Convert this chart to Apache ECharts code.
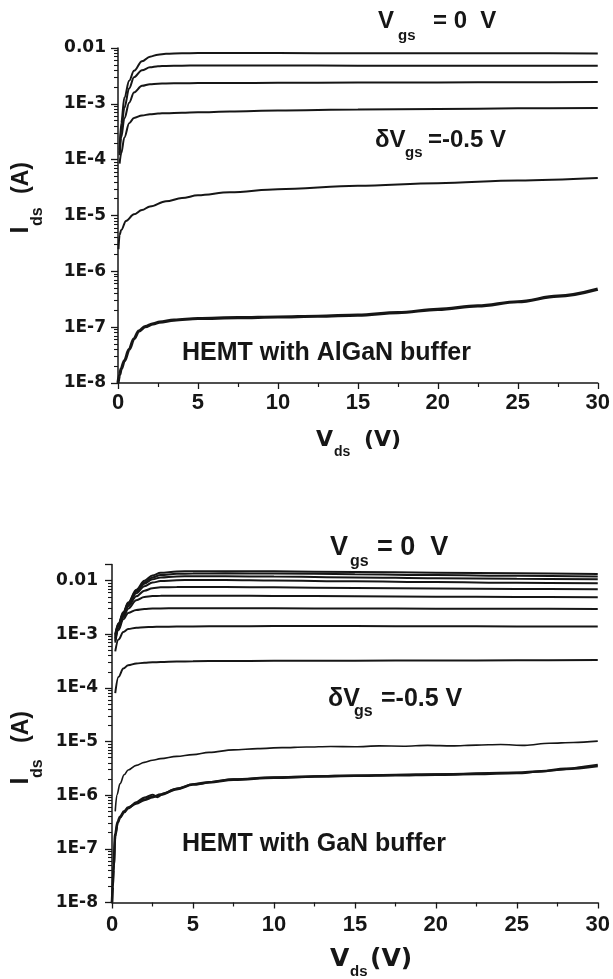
<!DOCTYPE html>
<html><head><meta charset="utf-8">
<script src="https://cdn.jsdelivr.net/npm/echarts@6/dist/echarts.min.js"></script>
<style>html,body{margin:0;padding:0;background:#fff}#c{width:613px;height:979px}</style>
</head><body><div id="c"></div>
<script>
// ---------- tick labels ----------
const xTickValues = [0, 5, 10, 15, 20, 25, 30];
const xTickLabels = ['0', '5', '10', '15', '20', '25', '30'];
const yTickExp = [-8, -7, -6, -5, -4, -3, -2];
const yTickLabels = ['1E-8', '1E-7', '1E-6', '1E-5', '1E-4', '1E-3', '0.01'];
const topYMax = 0.01;
const botYMax = 0.02;

// ---------- top panel: HEMT with AlGaN buffer ----------
const vT = [0.1, 0.2, 0.4, 0.7, 1, 1.5, 2, 2.5, 3, 4, 5, 7, 10, 15, 20, 25, 30];
const t1 = [1.5e-4, 4.5e-4, 1.3e-3, 2.6e-3, 3.9e-3, 5.8e-3, 7.0e-3, 7.6e-3, 7.9e-3, 8.05e-3, 8.1e-3, 8.1e-3, 8.1e-3, 8.08e-3, 8.05e-3, 8.02e-3, 8.0e-3];
const t2 = [1.3e-4, 3.5e-4, 8.5e-4, 1.9e-3, 3.0e-3, 4.0e-3, 4.5e-3, 4.7e-3, 4.78e-3, 4.83e-3, 4.85e-3, 4.85e-3, 4.85e-3, 4.83e-3, 4.82e-3, 4.81e-3, 4.8e-3];
const t3 = [1.2e-4, 2.5e-4, 5.5e-4, 1.05e-3, 1.6e-3, 2.1e-3, 2.25e-3, 2.3e-3, 2.32e-3, 2.34e-3, 2.35e-3, 2.36e-3, 2.38e-3, 2.4e-3, 2.42e-3, 2.44e-3, 2.46e-3];
const t4 = [8.5e-5, 1.3e-4, 2.5e-4, 4.5e-4, 5.6e-4, 6.2e-4, 6.5e-4, 6.7e-4, 6.8e-4, 6.95e-4, 7.05e-4, 7.3e-4, 7.6e-4, 7.9e-4, 8.1e-4, 8.3e-4, 8.4e-4];
const vT5 = [0.03, 0.1, 0.2, 0.5, 1, 1.5, 2, 3, 4, 5, 7, 10, 15, 20, 25, 30];
const t5 = [2.5e-6, 4.5e-6, 5.5e-6, 8e-6, 1.05e-5, 1.25e-5, 1.45e-5, 1.8e-5, 2.05e-5, 2.3e-5, 2.6e-5, 2.95e-5, 3.4e-5, 3.8e-5, 4.25e-5, 4.7e-5];
const vT6 = [0, 0.1, 0.2, 0.4, 0.7, 1, 1.3, 1.7, 2.2, 2.6, 3.5, 5, 7.5, 10, 12.5, 15, 17.5, 20, 22.5, 25, 27.5, 30];
const t6 = [1e-8, 1.4e-8, 1.8e-8, 2.5e-8, 4e-8, 6.2e-8, 8.5e-8, 1.02e-7, 1.15e-7, 1.23e-7, 1.34e-7, 1.43e-7, 1.48e-7, 1.52e-7, 1.57e-7, 1.64e-7, 1.82e-7, 2.08e-7, 2.4e-7, 2.85e-7, 3.6e-7, 4.8e-7];

// ---------- bottom panel: HEMT with GaN buffer ----------
const vB = [0.2, 0.4, 0.7, 1, 1.5, 2, 2.5, 3, 4, 5, 7, 10, 15, 20, 25, 30];
const b1 = [1.0e-3, 1.6e-3, 2.6e-3, 3.9e-3, 6.8e-3, 1.0e-2, 1.25e-2, 1.4e-2, 1.48e-2, 1.5e-2, 1.5e-2, 1.49e-2, 1.45e-2, 1.41e-2, 1.37e-2, 1.33e-2];
const b2 = [9.5e-4, 1.55e-3, 2.5e-3, 3.8e-3, 6.5e-3, 9.3e-3, 1.15e-2, 1.27e-2, 1.34e-2, 1.36e-2, 1.37e-2, 1.36e-2, 1.32e-2, 1.27e-2, 1.23e-2, 1.19e-2];
const b3 = [9e-4, 1.5e-3, 2.45e-3, 3.7e-3, 6.2e-3, 8.8e-3, 1.06e-2, 1.15e-2, 1.2e-2, 1.21e-2, 1.21e-2, 1.19e-2, 1.15e-2, 1.11e-2, 1.08e-2, 1.06e-2];
const b4 = [8.5e-4, 1.45e-3, 2.35e-3, 3.5e-3, 5.8e-3, 7.9e-3, 9.2e-3, 9.8e-3, 1.02e-2, 1.03e-2, 1.03e-2, 1.01e-2, 9.7e-3, 9.4e-3, 9.1e-3, 8.9e-3];
const b5 = [8e-4, 1.4e-3, 2.2e-3, 3.3e-3, 5.1e-3, 6.5e-3, 7.2e-3, 7.5e-3, 7.62e-3, 7.65e-3, 7.6e-3, 7.5e-3, 7.3e-3, 7.15e-3, 7.0e-3, 6.9e-3];
const b6 = [7.5e-4, 1.3e-3, 2.1e-3, 3.0e-3, 4.3e-3, 4.95e-3, 5.15e-3, 5.22e-3, 5.25e-3, 5.25e-3, 5.25e-3, 5.2e-3, 5.1e-3, 5.02e-3, 4.95e-3, 4.9e-3];
const b7 = [7e-4, 1.2e-3, 1.9e-3, 2.5e-3, 2.85e-3, 2.97e-3, 3.02e-3, 3.04e-3, 3.05e-3, 3.05e-3, 3.05e-3, 3.05e-3, 3.03e-3, 3.0e-3, 2.98e-3, 2.97e-3];
const b8 = [4.8e-4, 8e-4, 1.1e-3, 1.25e-3, 1.33e-3, 1.36e-3, 1.37e-3, 1.38e-3, 1.39e-3, 1.4e-3, 1.41e-3, 1.42e-3, 1.42e-3, 1.41e-3, 1.4e-3, 1.39e-3];
const b9 = [8e-5, 1.6e-4, 2.3e-4, 2.65e-4, 2.85e-4, 2.95e-4, 3.0e-4, 3.05e-4, 3.1e-4, 3.15e-4, 3.18e-4, 3.2e-4, 3.22e-4, 3.25e-4, 3.27e-4, 3.3e-4];
const vB10 = [0.2, 0.3, 0.5, 0.75, 1, 1.5, 2, 2.5, 3, 4, 5, 6, 7.5, 9, 10.5, 12, 13.5, 15, 16.5, 18, 19.5, 21, 22.5, 24, 25.5, 27, 28.5, 30];
const b10 = [5e-7, 1.0e-6, 1.65e-6, 2.4e-6, 2.95e-6, 3.6e-6, 4.1e-6, 4.5e-6, 4.8e-6, 5.3e-6, 5.7e-6, 6.3e-6, 7.0e-6, 7.4e-6, 7.7e-6, 7.9e-6, 8.1e-6, 8.0e-6, 8.3e-6, 8.2e-6, 8.5e-6, 8.3e-6, 8.6e-6, 8.8e-6, 8.5e-6, 9.3e-6, 9.6e-6, 1.02e-5];
const vB11 = [0, 0.05, 0.1, 0.2, 0.35, 0.5, 0.75, 1, 1.5, 2, 2.5, 3, 4, 5, 6, 7.5, 10, 12.5, 15, 17.5, 20, 22.5, 25, 26.5, 28, 30];
const b11 = [1e-8, 2e-8, 5e-8, 1.9e-7, 3.2e-7, 4e-7, 5e-7, 5.9e-7, 7e-7, 8.2e-7, 9.2e-7, 1.03e-6, 1.3e-6, 1.58e-6, 1.75e-6, 1.95e-6, 2.12e-6, 2.23e-6, 2.3e-6, 2.36e-6, 2.42e-6, 2.48e-6, 2.6e-6, 2.8e-6, 3.1e-6, 3.5e-6];
const vB12 = [0, 0.1, 0.2, 0.35, 0.5, 0.75, 1, 1.5, 2, 2.5, 2.8, 3.2, 4, 5, 7.5, 10, 15, 20, 25, 30];
const b12 = [1e-8, 4e-8, 1.7e-7, 3e-7, 3.8e-7, 4.8e-7, 5.7e-7, 7.4e-7, 9e-7, 1.02e-6, 9.2e-7, 1.08e-6, 1.33e-6, 1.6e-6, 1.98e-6, 2.15e-6, 2.33e-6, 2.45e-6, 2.65e-6, 3.7e-6];

// ---------- helpers ----------
const INK = '#161616';
const pts = (v, i) => v.map((x, k) => [x, Math.log10(i[k])]);
const majorTicks = (maxV) => { const a = yTickExp.slice(); if (Math.log10(maxV) > -2 + 1e-9) a.push(Math.log10(maxV)); return a; };
const minorTicks = () => { const a = []; for (let n = -8; n <= -3; n++) for (let k = 2; k <= 9; k++) a.push(n + Math.log10(k)); return a; };

function line(gi, v, i, w) {
  return { type: 'line', xAxisIndex: gi, yAxisIndex: gi * 2, data: pts(v, i), showSymbol: false, symbol: 'none',
    smooth: 0.35, smoothMonotone: 'x', lineStyle: { color: INK, width: w || 2 }, silent: true, clip: false };
}
function xAx(gi, margin) {
  return { type: 'value', gridIndex: gi, min: 0, max: 30, interval: 5,
    axisLine: { show: true, onZero: false, lineStyle: { color: INK, width: 1.5 } },
    axisTick: { show: true, inside: false, length: 6, lineStyle: { color: INK, width: 1.3 } },
    minorTick: { show: true, splitNumber: 2, length: 4, lineStyle: { color: INK, width: 1.2 } },
    splitLine: { show: false }, minorSplitLine: { show: false },
    axisLabel: { margin: margin, fontFamily: 'Liberation Sans', fontWeight: 'bold', fontSize: 22, color: INK,
      formatter: (val) => { const k = xTickValues.indexOf(val); return k >= 0 ? xTickLabels[k] : ''; } } };
}
function yMain(gi, maxV, margin) {
  return { type: 'value', gridIndex: gi, position: 'left', min: -8, max: Math.log10(maxV),
    axisLine: { show: true, onZero: false, lineStyle: { color: INK, width: 1.5 } },
    axisTick: { show: true, inside: false, length: 7, customValues: majorTicks(maxV), lineStyle: { color: INK, width: 1.3 } },
    splitLine: { show: false },
    axisLabel: { margin: margin, customValues: yTickExp, fontFamily: 'DejaVu Sans', fontWeight: 'bold', fontSize: 17, color: INK,
      formatter: (val) => { const k = yTickExp.findIndex(e => Math.abs(e - val) < 1e-6); return k >= 0 ? yTickLabels[k] : ''; } } };
}
function yMinor(gi, maxV) {
  return { type: 'value', gridIndex: gi, position: 'left', offset: 0, min: -8, max: Math.log10(maxV),
    axisLine: { show: false }, axisLabel: { show: false }, splitLine: { show: false },
    axisTick: { show: true, inside: false, length: 4, customValues: minorTicks(), lineStyle: { color: INK, width: 1.1 } } };
}
function txt(x, y, s, size, fam, extra) {
  return Object.assign({ type: 'text', x: x, y: y, silent: true,
    style: { text: s, fill: INK, font: 'bold ' + size + 'px "' + (fam || 'Liberation Sans') + '"',
      textAlign: 'left', textVerticalAlign: 'middle', align: 'left', verticalAlign: 'middle' } }, extra || {});
}
const R = { rotation: Math.PI / 2 };

const chart = echarts.init(document.getElementById('c'), null, { renderer: 'canvas' });
chart.setOption({
  animation: false,
  backgroundColor: '#ffffff',
  grid: [
    { left: 118, right: 12, top: 48, height: 335, containLabel: false },
    { left: 112, right: 12, top: 564.5, height: 338, containLabel: false }
  ],
  xAxis: [xAx(0, 9), xAx(1, 11)],
  yAxis: [yMain(0, topYMax, 12), yMinor(0, topYMax), yMain(1, botYMax, 14), yMinor(1, botYMax)],
  series: [
    line(0, vT, t1), line(0, vT, t2), line(0, vT, t3), line(0, vT, t4), line(0, vT5, t5), line(0, vT6, t6, 3.2),
    line(1, vB, b1), line(1, vB, b2), line(1, vB, b3), line(1, vB, b4), line(1, vB, b5), line(1, vB, b6),
    line(1, vB, b7), line(1, vB, b8), line(1, vB, b9), line(1, vB10, b10, 1.6),
    line(1, vB11, b11, 2.6), line(1, vB12, b12, 2.2)
  ],
  graphic: { elements: [
    // top panel annotations
    txt(378, 21.5, 'V', 24), txt(398, 36, 'gs', 15), txt(433, 21.5, '= 0  V', 24),
    txt(375, 140, 'δV', 24), txt(405, 153, 'gs', 15), txt(428, 140, '=-0.5 V', 24),
    txt(182, 353.5, 'HEMT with AlGaN buffer', 25),
    txt(316, 440, 'V', 22, 'DejaVu Sans'), txt(334, 452, 'ds', 14, 'Liberation Sans'), txt(364, 440, '(V)', 22, 'DejaVu Sans'),
    txt(21, 233.5, 'I', 25, 'Liberation Sans', R), txt(37.5, 226, 'ds', 16, 'Liberation Sans', R), txt(21.5, 194, '(A)', 23, 'Liberation Sans', R),
    // bottom panel annotations
    txt(330, 547.5, 'V', 27), txt(350, 562, 'gs', 16), txt(377, 547.5, '= 0  V', 27),
    txt(328, 699, 'δV', 25), txt(354, 712, 'gs', 16), txt(381, 699, '=-0.5 V', 25),
    txt(182, 844, 'HEMT with GaN buffer', 25),
    txt(330, 959, 'V', 25, 'DejaVu Sans'), txt(350, 972, 'ds', 15, 'Liberation Sans'), txt(370, 959, '(V)', 25, 'DejaVu Sans'),
    txt(21, 784.5, 'I', 25, 'Liberation Sans', R), txt(38, 778, 'ds', 16, 'Liberation Sans', R), txt(21.5, 743, '(A)', 23, 'Liberation Sans', R)
  ] }
});
</script></body></html>
